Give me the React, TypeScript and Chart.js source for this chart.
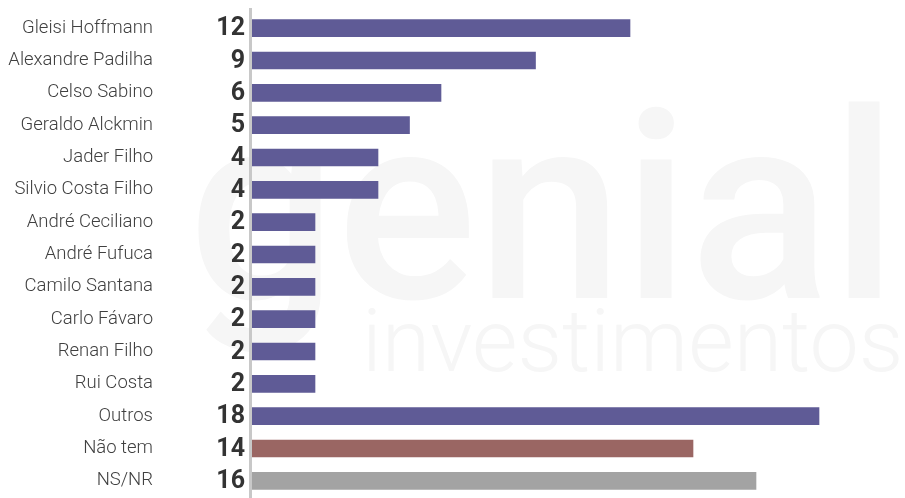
import React, { useEffect, useRef } from "react";
import { Chart, registerables } from "chart.js";

Chart.register(...registerables);

const categories = [
  "Gleisi Hoffmann",
  "Alexandre Padilha",
  "Celso Sabino",
  "Geraldo Alckmin",
  "Jader Filho",
  "Silvio Costa Filho",
  "André Ceciliano",
  "André Fufuca",
  "Camilo Santana",
  "Carlo Fávaro",
  "Renan Filho",
  "Rui Costa",
  "Outros",
  "Não tem",
  "NS/NR",
];
const values = [12, 9, 6, 5, 4, 4, 2, 2, 2, 2, 2, 2, 18, 14, 16];
const barColors = [
  "#5f5b96", "#5f5b96", "#5f5b96", "#5f5b96", "#5f5b96", "#5f5b96",
  "#5f5b96", "#5f5b96", "#5f5b96", "#5f5b96", "#5f5b96", "#5f5b96",
  "#5f5b96", "#9a6663", "#a3a3a3",
];

const watermarkPlugin = {
  id: "watermark",
  beforeDraw(chart: any) {
    const { ctx } = chart;
    ctx.save();
    ctx.fillStyle = "#f6f6f6";
    ctx.textAlign = "left";
    ctx.textBaseline = "alphabetic";
    ctx.font = "500 262px Roboto";
    ctx.fillText("genial", 188, 298);
    ctx.font = "300 88px Roboto";
    ctx.fillText("investimentos", 362, 371);
    ctx.restore();
  },
};

const axisAndLabelsPlugin = {
  id: "axisAndLabels",
  beforeDatasetsDraw(chart: any) {
    const { ctx, chartArea } = chart;
    ctx.save();
    ctx.fillStyle = "#c8c8c8";
    ctx.fillRect(chartArea.left - 3, 8, 3, chart.height - 8);
    ctx.restore();
  },
  afterDatasetsDraw(chart: any) {
    const { ctx, chartArea } = chart;
    const meta = chart.getDatasetMeta(0);
    ctx.save();
    ctx.textBaseline = "middle";
    ctx.textAlign = "right";
    meta.data.forEach((bar: any, i: number) => {
      ctx.fillStyle = "#333333";
      ctx.font = "bold 25px Roboto";
      ctx.fillText(String(values[i]), chartArea.left - 7, bar.y + 1);
      ctx.fillStyle = "#404040";
      ctx.font = "300 18.5px Roboto";
      ctx.fillText(categories[i], chartArea.left - 99, bar.y);
    });
    ctx.restore();
  },
};

export default function App() {
  const canvasRef = useRef<HTMLCanvasElement | null>(null);

  useEffect(() => {
    if (!canvasRef.current) return;
    const chart = new Chart(canvasRef.current, {
      type: "bar",
      data: {
        labels: categories,
        datasets: [
          {
            data: values,
            backgroundColor: barColors,
            borderWidth: 0,
            barThickness: 17,
          },
        ],
      },
      options: {
        indexAxis: "y",
        animation: false,
        responsive: false,
        maintainAspectRatio: false,
        layout: { padding: { top: 12, bottom: 1, right: 23, left: 252 } },
        plugins: {
          legend: { display: false },
          tooltip: { enabled: false },
        },
        scales: {
          x: {
            min: 0,
            max: 20,
            display: false,
          },
          y: {
            display: false,
          },
        },
      },
      plugins: [watermarkPlugin, axisAndLabelsPlugin],
    });
    return () => chart.destroy();
  }, []);

  return (
    <div style={{ position: "fixed", left: 0, top: 0, width: 905, height: 498, background: "#ffffff" }}>
      <canvas ref={canvasRef} width={905} height={498} style={{ width: 905, height: 498 }} />
    </div>
  );
}
